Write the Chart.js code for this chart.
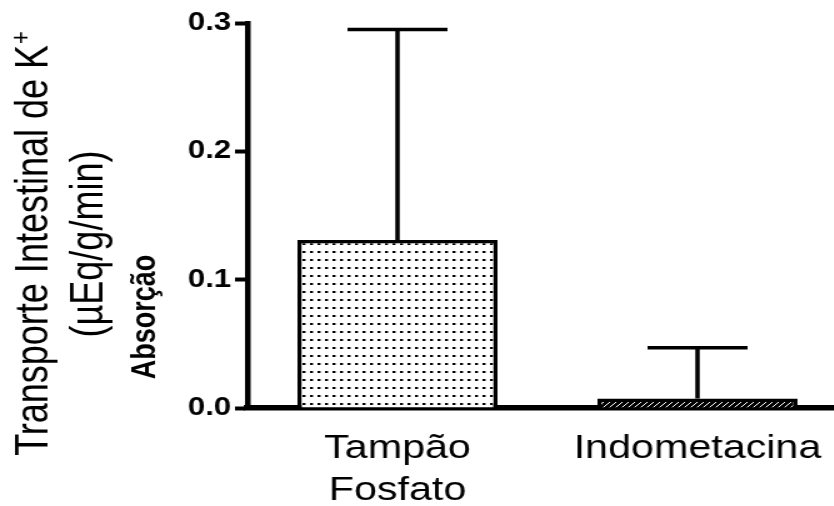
<!DOCTYPE html>
<html>
<head>
<meta charset="utf-8">
<script src="https://cdn.jsdelivr.net/npm/chart.js@4"></script>
<style>
  html, body { margin: 0; padding: 0; background: #fff; overflow: hidden; }
  /* o gráfico original está esticado na horizontal */
  #caixa { width: 678px; height: 506px; transform: scaleX(1.25); transform-origin: 0 0; }
</style>
</head>
<body>
<div id="caixa"><canvas id="grafico"></canvas></div>
<script>
const categorias = [['Tampão', 'Fosfato'], 'Indometacina'];
const medias = [0.131, 0.0075];
const erros = [0.164, 0.0395];
const ticksY = [0, 0.1, 0.2, 0.3];
const tituloY = ['Transporte Intestinal de K', '+', '(µEq/g/min)', 'Absorção'];

const FONTE = '"Liberation Sans", Arial, sans-serif';

function padraoPontos() {
    const c = document.createElement('canvas');
    c.width = 6; c.height = 8;
    const g = c.getContext('2d');
    g.fillStyle = '#fff';
    g.fillRect(0, 0, 6, 8);
    g.fillStyle = '#000';
    g.fillRect(2, 3, 2.4, 2);
    return g.createPattern(c, 'repeat');
}

function padraoListras() {
    const c = document.createElement('canvas');
    c.width = 5; c.height = 5;
    const g = c.getContext('2d');
    g.fillStyle = '#000';
    g.fillRect(0, 0, 5, 5);
    g.strokeStyle = '#fff';
    g.lineWidth = 1;
    g.beginPath();
    g.moveTo(0, 5); g.lineTo(5, 0);
    g.stroke();
    return g.createPattern(c, 'repeat');
}

const barrasDeErro = {
    id: 'barrasDeErro',
    afterDatasetsDraw(chart) {
        const ctx = chart.ctx;
        const y = chart.scales.y;
        const meta = chart.getDatasetMeta(0);
        ctx.save();
        ctx.strokeStyle = '#000';
        ctx.lineWidth = 3.5;
        meta.data.forEach((barra, i) => {
            const topo = y.getPixelForValue(medias[i] + erros[i]);
            ctx.beginPath();
            ctx.moveTo(barra.x, barra.y);
            ctx.lineTo(barra.x, topo);
            ctx.moveTo(barra.x - 40, topo);
            ctx.lineTo(barra.x + 40, topo);
            ctx.stroke();
        });
        ctx.restore();
    }
};

const tituloEixo = {
    id: 'tituloEixo',
    afterDraw(chart) {
        const ctx = chart.ctx;
        ctx.save();
        ctx.fillStyle = '#000';

        // linha 1 com o "+" sobrescrito
        ctx.save();
        ctx.translate(37.5, 244);
        ctx.rotate(-Math.PI / 2);
        ctx.font = '36px ' + FONTE;
        const w1 = ctx.measureText(tituloY[0]).width;
        ctx.font = '22px ' + FONTE;
        const w2 = ctx.measureText(tituloY[1]).width;
        const ini = -(w1 + w2) / 2;
        ctx.textAlign = 'left';
        ctx.font = '36px ' + FONTE;
        ctx.fillText(tituloY[0], ini, 0);
        ctx.font = '22px ' + FONTE;
        ctx.fillText(tituloY[1], ini + w1 + 1, -14);
        ctx.restore();

        ctx.save();
        ctx.translate(82, 244);
        ctx.rotate(-Math.PI / 2);
        ctx.textAlign = 'center';
        ctx.font = '36px ' + FONTE;
        ctx.fillText(tituloY[2], 0, 0);
        ctx.restore();

        ctx.save();
        ctx.translate(124, 317);
        ctx.rotate(-Math.PI / 2);
        ctx.textAlign = 'center';
        ctx.font = 'bold 27px ' + FONTE;
        ctx.fillText(tituloY[3], 0, 0);
        ctx.restore();

        ctx.restore();
    }
};

function main() {
    const ctx = document.getElementById('grafico').getContext('2d');
    window.grafico = new Chart(ctx, {
        type: 'bar',
        data: {
            labels: categorias,
            datasets: [{
                data: medias,
                backgroundColor: [padraoPontos(), padraoListras()],
                borderColor: '#000',
                borderWidth: 3.5,
                categoryPercentage: 1,
                barPercentage: 0.667
            }]
        },
        plugins: [barrasDeErro, tituloEixo],
        options: {
            animation: false,
            responsive: true,
            maintainAspectRatio: false,
            layout: { padding: { top: 23, left: 0, right: 0, bottom: 0 } },
            plugins: {
                legend: { display: false },
                tooltip: { enabled: false }
            },
            scales: {
                x: {
                    afterFit(escala) { escala.height = 98; },
                    grid: { display: false, drawTicks: false },
                    border: { display: true, color: '#000', width: 5.5 },
                    ticks: {
                        color: '#000',
                        padding: 20,
                        maxRotation: 0,
                        autoSkip: false,
                        font: { family: FONTE, size: 33, lineHeight: 1.27 }
                    }
                },
                y: {
                    min: 0,
                    max: 0.3,
                    afterFit(escala) { escala.width = 198; },
                    afterBuildTicks(escala) { escala.ticks = ticksY.map(v => ({ value: v })); },
                    grid: {
                        drawOnChartArea: false,
                        drawTicks: true,
                        tickLength: 10,
                        tickWidth: 4,
                        tickColor: '#000'
                    },
                    border: { display: true, color: '#000', width: 4.5 },
                    ticks: {
                        color: '#000',
                        padding: 3,
                        font: { family: FONTE, size: 25, weight: 'bold' },
                        callback: (v) => Number(v).toFixed(1)
                    }
                }
            }
        }
    });
}

window.addEventListener('DOMContentLoaded', main);
</script>
</body>
</html>
